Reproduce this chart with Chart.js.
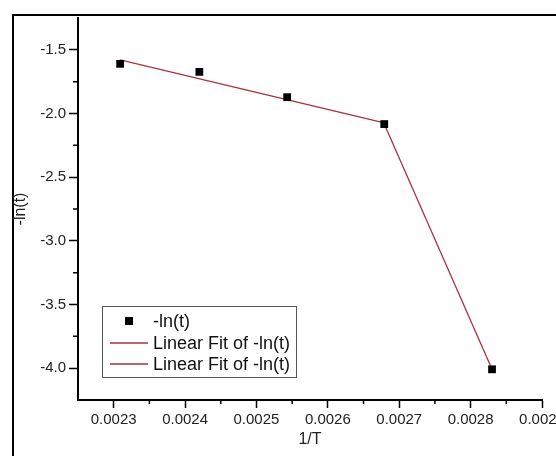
<!DOCTYPE html>
<html>
<head>
<meta charset="utf-8">
<script src="https://cdn.jsdelivr.net/npm/chart.js@4/dist/chart.umd.min.js"></script>
<style>
  html, body { margin: 0; padding: 0; background: #fff; overflow: hidden; }
  #wrap { position: absolute; left: 0; top: 0; width: 600px; height: 456px; }
</style>
</head>
<body>
<div id="wrap"><canvas id="arrhenius" width="600" height="456"></canvas></div>
<script>
// measured points
var invT = [0.002309, 0.002420, 0.002543, 0.002679, 0.002830];
var negLnT = [-1.610, -1.673, -1.872, -2.083, -4.009];

// two linear fits (end points)
var fit1X = [0.002309, 0.002679];
var fit1Y = [-1.578, -2.073];
var fit2X = [0.002679, 0.002830];
var fit2Y = [-2.083, -4.009];

// axis ticks
var xTicks = [0.0023, 0.0024, 0.0025, 0.0026, 0.0027, 0.0028, 0.0029];
var yTicks = [-4.0, -3.5, -3.0, -2.5, -2.0, -1.5];

var FONT = '"Liberation Sans", Arial, sans-serif';
var fitColor = '#a8323e';

function toXY(xs, ys) {
    return xs.map(function (x, i) { return { x: x, y: ys[i] }; });
}

// outer frame lines
var framePlugin = {
    id: 'frame',
    beforeDraw: function (chart) {
        var ctx = chart.ctx;
        ctx.save();
        ctx.strokeStyle = '#000';
        ctx.lineWidth = 2;
        ctx.beginPath();
        ctx.moveTo(13, 456);
        ctx.lineTo(13, 15);
        ctx.lineTo(600, 15);
        ctx.stroke();
        ctx.restore();
    }
};

// short ticks halfway between the labelled ones
var minorTicks = {
    id: 'minorTicks',
    afterDraw: function (chart) {
        var ctx = chart.ctx;
        var xs = chart.scales.x, ys = chart.scales.y;
        var area = chart.chartArea;
        ctx.save();
        ctx.strokeStyle = '#000';
        ctx.lineWidth = 1.5;
        ctx.beginPath();
        for (var i = 0; i < xTicks.length - 1; i++) {
            var px = xs.getPixelForValue((xTicks[i] + xTicks[i + 1]) / 2);
            ctx.moveTo(px, area.bottom);
            ctx.lineTo(px, area.bottom + 4);
        }
        for (var j = 0; j < yTicks.length - 1; j++) {
            var py = ys.getPixelForValue((yTicks[j] + yTicks[j + 1]) / 2);
            ctx.moveTo(area.left, py);
            ctx.lineTo(area.left - 5, py);
        }
        ctx.stroke();
        ctx.restore();
    }
};

// boxed legend in the lower left of the plot
var boxLegend = {
    id: 'boxLegend',
    afterDraw: function (chart) {
        var ctx = chart.ctx;
        var sets = chart.data.datasets;
        ctx.save();
        ctx.fillStyle = '#fff';
        ctx.fillRect(102, 306, 194, 71);
        ctx.strokeStyle = '#555';
        ctx.lineWidth = 1;
        ctx.strokeRect(102.5, 306.5, 194, 71);
        ctx.font = '18px ' + FONT;
        ctx.textBaseline = 'middle';
        ctx.fillStyle = '#111';
        var rows = [321, 343, 364];
        sets.forEach(function (ds, i) {
            var y = rows[i];
            if (ds.showLine === false) {
                ctx.fillStyle = ds.backgroundColor;
                ctx.fillRect(125, y - 4, 8, 8);
            } else {
                ctx.strokeStyle = ds.borderColor;
                ctx.lineWidth = 1.3;
                ctx.beginPath();
                ctx.moveTo(110, y);
                ctx.lineTo(148, y);
                ctx.stroke();
            }
            ctx.fillStyle = '#111';
            ctx.fillText(ds.label, 153, y + 1);
        });
        ctx.restore();
    }
};

new Chart(document.getElementById('arrhenius'), {
    type: 'scatter',
    data: {
        datasets: [{
            label: '-ln(t)',
            data: toXY(invT, negLnT),
            showLine: false,
            pointStyle: 'rect',
            pointRadius: 5.5,
            pointHoverRadius: 5.5,
            backgroundColor: '#000',
            borderColor: '#000',
            borderWidth: 0,
            order: 0
        }, {
            label: 'Linear Fit of -ln(t)',
            data: toXY(fit1X, fit1Y),
            showLine: true,
            pointRadius: 0,
            borderColor: fitColor,
            borderWidth: 1.3,
            order: 1
        }, {
            label: 'Linear Fit of -ln(t)',
            data: toXY(fit2X, fit2Y),
            showLine: true,
            pointRadius: 0,
            borderColor: fitColor,
            borderWidth: 1.3,
            order: 1
        }]
    },
    options: {
        responsive: false,
        animation: false,
        layout: { padding: { left: 0, top: 18, right: 58, bottom: 0 } },
        plugins: {
            legend: { display: false },
            tooltip: { enabled: false }
        },
        scales: {
            x: {
                type: 'linear',
                min: 0.00225,
                max: 0.0029,
                afterFit: function (scale) { scale.height = 56; },
                afterBuildTicks: function (scale) {
                    scale.ticks = xTicks.map(function (v) { return { value: v }; });
                },
                border: { display: true, color: '#000', width: 2 },
                grid: {
                    drawOnChartArea: false,
                    drawTicks: true,
                    tickLength: 8,
                    tickColor: '#000',
                    tickWidth: 1.5
                },
                ticks: {
                    color: '#222',
                    padding: 3,
                    maxRotation: 0,
                    font: { family: FONT, size: 15 },
                    callback: function (v) { return v.toFixed(4); }
                },
                title: {
                    display: true,
                    text: '1/T',
                    color: '#222',
                    font: { family: FONT, size: 16 },
                    padding: { top: 0, bottom: 7 }
                }
            },
            y: {
                type: 'linear',
                min: -4.25,
                max: -1.25,
                afterFit: function (scale) { scale.width = 78; },
                afterBuildTicks: function (scale) {
                    scale.ticks = yTicks.map(function (v) { return { value: v }; });
                },
                border: { display: true, color: '#000', width: 2 },
                grid: {
                    drawOnChartArea: false,
                    drawTicks: true,
                    tickLength: 9,
                    tickColor: '#000',
                    tickWidth: 1.5
                },
                ticks: {
                    color: '#222',
                    padding: 3,
                    font: { family: FONT, size: 15 },
                    callback: function (v) { return v.toFixed(1); }
                },
                title: {
                    display: true,
                    text: '-ln(t)',
                    color: '#222',
                    font: { family: FONT, size: 16 },
                    padding: { top: 11, bottom: 0 }
                }
            }
        }
    },
    plugins: [framePlugin, minorTicks, boxLegend]
});
</script>
</body>
</html>
